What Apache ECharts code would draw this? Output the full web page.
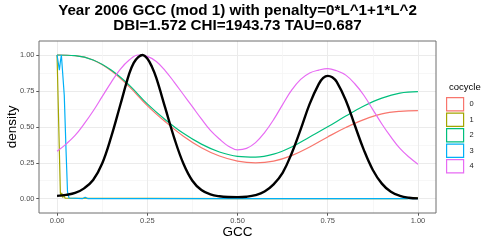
<!DOCTYPE html>
<html><head><meta charset="utf-8">
<script src="https://cdn.jsdelivr.net/npm/echarts@6/dist/echarts.min.js"></script>
<style>html,body{margin:0;padding:0;background:#fff}#c{width:491px;height:245px}</style>
</head><body><div id="c"></div>
<script>
// ---- data ----
const titleText = 'Year 2006 GCC (mod 1) with penalty=0*L^1+1*L^2\nDBI=1.572 CHI=1943.73 TAU=0.687';
const xName = 'GCC';
const yName = 'density';
const legendTitle = 'cocycle';
const cocycles = ['0', '1', '2', '3', '4'];
const colors = ['#F8766D', '#A3A500', '#00BF7D', '#00B0F6', '#E76BF3'];
const xTicks = [0, 0.25, 0.5, 0.75, 1];
const xTickLabels = ['0.00', '0.25', '0.50', '0.75', '1.00'];
const yTicks = [0, 0.25, 0.5, 0.75, 1];
const yTickLabels = ['0.00', '0.25', '0.50', '0.75', '1.00'];

// sample positions (GCC)
const gccFine = [0,0.025,0.05,0.075,0.1,0.125,0.15,0.175,0.2,0.225,0.25,0.275,0.3,0.325,0.35,0.375,0.4,0.425,0.45,0.475,0.5,0.525,0.55,0.575,0.6,0.625,0.65,0.675,0.7,0.725,0.75,0.775,0.8,0.825,0.85,0.875,0.9,0.925,0.95,0.975,1];
const gccCoarse = [0,0.05,0.1,0.15,0.2,0.25,0.3,0.35,0.4,0.45,0.5,0.55,0.6,0.65,0.7,0.75,0.8,0.85,0.9,0.95,1];
const gccTotal = [0,0.025,0.05,0.075,0.1,0.125,0.15,0.175,0.2,0.2125,0.225,0.2375,0.25,0.2625,0.275,0.3,0.325,0.35,0.375,0.4,0.425,0.45,0.475,0.5,0.525,0.55,0.575,0.6,0.625,0.65,0.675,0.7,0.725,0.7375,0.75,0.7625,0.775,0.8,0.825,0.85,0.875,0.9,0.925,0.95,0.975,1];

// overall density (black)
const totalDensity = [0.020,0.027,0.040,0.072,0.13,0.245,0.43,0.65,0.87,0.945,0.985,1.0,0.975,0.92,0.84,0.63,0.42,0.245,0.125,0.06,0.03,0.017,0.012,0.011,0.014,0.025,0.05,0.10,0.18,0.315,0.483,0.66,0.797,0.84,0.855,0.845,0.813,0.685,0.511,0.34,0.20,0.105,0.048,0.02,0.007,0.002];
// cocycle 4 (on gccFine)
const cocycle4 = [0.33,0.38,0.44,0.52,0.61,0.71,0.81,0.90,0.965,1.0,0.99,0.955,0.89,0.81,0.725,0.64,0.555,0.475,0.415,0.365,0.34,0.35,0.39,0.46,0.55,0.655,0.755,0.83,0.875,0.895,0.905,0.89,0.86,0.80,0.72,0.62,0.52,0.43,0.35,0.29,0.24];
// cocycles 0 and 2 (on gccCoarse)
const cocycle0 = [1.0,0.995,0.965,0.89,0.78,0.648,0.535,0.435,0.355,0.297,0.262,0.25,0.262,0.30,0.36,0.43,0.495,0.55,0.59,0.608,0.613];
const cocycle2 = [1.0,0.995,0.965,0.895,0.79,0.66,0.55,0.455,0.38,0.325,0.295,0.29,0.31,0.36,0.43,0.50,0.575,0.645,0.70,0.735,0.745];
// cocycle 1 (sharp drop near 0)
const gcc1 = [0,0.0035,0.0092,0.011,0.013,0.016,0.019,0.022,0.027,0.5,0.97,0.985,1];
const cocycle1 = [1.0,1.0,0.04,0.015,0.04,0.008,0.03,0.004,0,0,0,0.008,0.004];
// cocycle 3 (dip then sharp drop)
const gcc3 = [0,0.0035,0.0065,0.0095,0.012,0.0155,0.02,0.025,0.029,0.033,0.037,0.07,0.078,0.086,0.5,0.8,0.805,0.81,1];
const cocycle3 = [1.0,0.99,0.895,0.96,1.0,1.0,0.72,0.33,0.05,0.005,0,0,0.01,0,0,0,0.006,0,0];

const zip = (xs, ys) => xs.map((x, i) => [x, ys[i]]);
const fam = 'Liberation Sans, Arial, Helvetica, sans-serif';

// panel geometry
const P = {left: 39, right: 55, top: 41, bottom: 32};
const X0 = -0.05, X1 = 1.05;
const Y0 = -0.0995, Y1 = 1.0974;
const W = 491 - P.left - P.right, H = 245 - P.top - P.bottom;
const xpx = v => P.left + (v - X0) / (X1 - X0) * W;
const ypx = v => P.top + (Y1 - v) / (Y1 - Y0) * H;

const chart = echarts.init(document.getElementById('c'), null, {renderer: 'canvas'});
const colourSeries = [
  {name: '0', data: zip(gccCoarse, cocycle0), smooth: 0.4},
  {name: '1', data: zip(gcc1, cocycle1), smooth: false},
  {name: '2', data: zip(gccCoarse, cocycle2), smooth: 0.4},
  {name: '3', data: zip(gcc3, cocycle3), smooth: false},
  {name: '4', data: zip(gccFine, cocycle4), smooth: 0.4}
].map((s, i) => Object.assign({
  type: 'line', xAxisIndex: 2, yAxisIndex: 2, showSymbol: false, symbol: 'none',
  lineStyle: {color: colors[i], width: 1.2}, itemStyle: {color: colors[i]}, z: 3
}, s));

const gridBase = {outerBoundsMode: 'none', containLabel: false};
chart.setOption({
  animation: false,
  textStyle: {fontFamily: fam},
  title: [
    {text: titleText, left: 237.5, top: 3, textAlign: 'center', padding: 0,
     textStyle: {fontSize: 15.2, fontWeight: 'bold', lineHeight: 15.5, color: '#000', fontFamily: fam}},
    {text: legendTitle, left: 449, top: 82, padding: 0,
     textStyle: {fontSize: 9.5, fontWeight: 'normal', color: '#000', fontFamily: fam}}
  ],
  legend: {
    orient: 'vertical', left: 446, top: 97, padding: 0,
    itemWidth: 17, itemHeight: 13.3, itemGap: 1, icon: 'rect', selectedMode: false,
    textStyle: {fontSize: 7.5, color: '#1a1a1a', fontFamily: fam, padding: [0, 0, 0, 1]},
    data: cocycles.map((n, i) => ({name: n, icon: 'rect',
      itemStyle: {color: '#ffffff', borderColor: colors[i], borderWidth: 1.2}}))
  },
  grid: [
    // A: x from 0..1 (vertical grid lines + x labels)
    Object.assign({left: xpx(0), right: 491 - xpx(1), top: P.top, bottom: P.bottom, show: false}, gridBase),
    // B: y from 0..1 (horizontal grid lines + y labels)
    Object.assign({left: P.left, right: P.right, top: ypx(1), bottom: 245 - ypx(0), show: false}, gridBase),
    // C: data panel
    Object.assign({left: P.left, right: P.right, top: P.top, bottom: P.bottom, show: true,
     backgroundColor: 'transparent', borderColor: '#6e6e6e', borderWidth: 1, z: 1}, gridBase)
  ],
  xAxis: [
    {type: 'value', gridIndex: 0, min: 0, max: 1, interval: 0.25,
     name: xName, nameLocation: 'middle', nameGap: 12, nameMoveOverlap: false,
     nameTextStyle: {fontSize: 13.5, color: '#000', fontFamily: fam},
     axisLine: {show: false},
     axisTick: {show: true, length: 2.7, lineStyle: {color: '#555555', width: 1}},
     axisLabel: {margin: 4, fontSize: 7.5, color: '#4D4D4D', fontFamily: fam,
       formatter: v => { const k = xTicks.findIndex(t => Math.abs(t - v) < 1e-9); return k >= 0 ? xTickLabels[k] : ''; }},
     splitLine: {show: true, lineStyle: {color: '#EBEBEB', width: 1}},
     minorTick: {show: false, splitNumber: 2},
     minorSplitLine: {show: true, lineStyle: {color: '#F5F5F5', width: 0.8}}},
    {type: 'value', gridIndex: 1, min: 0, max: 1, show: false},
    {type: 'value', gridIndex: 2, min: X0, max: X1, show: false}
  ],
  yAxis: [
    {type: 'value', gridIndex: 0, min: 0, max: 1, show: false},
    {type: 'value', gridIndex: 1, min: 0, max: 1, interval: 0.25,
     name: yName, nameLocation: 'middle', nameGap: 20, nameMoveOverlap: false,
     nameTextStyle: {fontSize: 13.5, color: '#000', fontFamily: fam},
     axisLine: {show: false},
     axisTick: {show: true, length: 2.7, lineStyle: {color: '#555555', width: 1}},
     axisLabel: {margin: 4.5, fontSize: 7.5, color: '#4D4D4D', fontFamily: fam,
       formatter: v => { const k = yTicks.findIndex(t => Math.abs(t - v) < 1e-9); return k >= 0 ? yTickLabels[k] : ''; }},
     splitLine: {show: true, lineStyle: {color: '#EBEBEB', width: 1}},
     minorTick: {show: false, splitNumber: 2},
     minorSplitLine: {show: true, lineStyle: {color: '#F5F5F5', width: 0.8}}},
    {type: 'value', gridIndex: 2, min: Y0, max: Y1, show: false}
  ],
  series: colourSeries.concat([{
    name: 'total', type: 'line', xAxisIndex: 2, yAxisIndex: 2, showSymbol: false, symbol: 'none',
    smooth: 0.4, data: zip(gccTotal, totalDensity),
    lineStyle: {color: '#000000', width: 2.4}, itemStyle: {color: '#000'}, z: 4
  }])
});
</script>
</body></html>
